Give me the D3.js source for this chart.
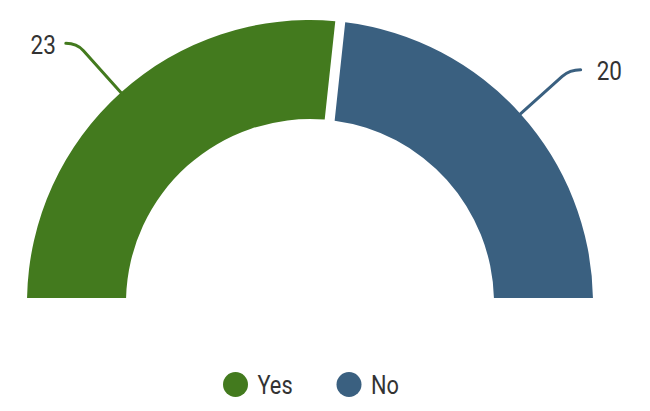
<!DOCTYPE html>
<html>
<head>
<meta charset="utf-8">
<script src="https://cdn.jsdelivr.net/npm/d3@7"></script>
<style>
  html, body { margin: 0; padding: 0; background: #fff; }
  svg { display: block; }
  text { font-family: Roboto, "Noto Sans", sans-serif; fill: #333; }
</style>
</head>
<body>
<svg id="chart" width="650" height="411"></svg>
<script>
const categories = ["Yes", "No"];
const values = [23, 20];
const colors = ["#437a1e", "#3a6080"];

const W = 650, H = 411;
const cx = 310, cy = 303;
const outerR = 283, innerR = 184;
const gap = 10;

const svg = d3.select("#chart");
const data = categories.map((c, i) => ({ name: c, value: values[i], color: colors[i] }));

const pie = d3.pie()
  .sort(null)
  .value(d => d.value)
  .startAngle(-Math.PI / 2)
  .endAngle(Math.PI / 2)
  .padAngle(gap / outerR);

const arc = d3.arc()
  .innerRadius(innerR)
  .outerRadius(outerR)
  .padRadius(outerR);

const arcs = pie(data);
const g = svg.append("g").attr("transform", `translate(${cx},${cy})`);

g.selectAll("path.slice")
  .data(arcs)
  .join("path")
  .attr("class", "slice")
  .attr("d", arc)
  .attr("fill", d => d.data.color);

// connectors + labels
function polar(r, a) { return [r * Math.sin(a), -r * Math.cos(a)]; }

arcs.forEach(d => {
  const mid = (d.startAngle + d.endAngle) / 2;
  const side = Math.sin(mid) < 0 ? -1 : 1;
  const p0 = polar(outerR - 2, mid);
  const p1 = polar(outerR + 56, mid);
  const c = polar(outerR + 66, mid);
  const end = [c[0] + side * 11, c[1]];
  const path = d3.path();
  path.moveTo(p0[0], p0[1]);
  path.lineTo(p1[0], p1[1]);
  path.quadraticCurveTo(c[0], c[1], end[0], end[1]);
  g.append("path")
    .attr("d", path.toString())
    .attr("fill", "none")
    .attr("stroke", d.data.color)
    .attr("stroke-width", 3)
    .attr("stroke-linecap", "round");
  const lx = end[0] + side * (side < 0 ? 10 : 16);
  g.append("text")
    .attr("transform", `translate(${lx},${end[1] + 1.5}) scale(0.9,1)`)
    .attr("dy", "0.36em")
    .attr("text-anchor", side < 0 ? "end" : "start")
    .style("font-size", "25px")
    .text(d.data.value);
});

// legend
const legendY = 384.5;
const legendX = [235.5, 349];
const leg = svg.append("g");
data.forEach((d, i) => {
  leg.append("circle")
    .attr("cx", legendX[i])
    .attr("cy", legendY)
    .attr("r", 12.5)
    .attr("fill", d.color);
  leg.append("text")
    .attr("transform", `translate(${legendX[i] + 22},${legendY + 0.5}) scale(0.87,1)`)
    .attr("dy", "0.36em")
    .style("font-size", "25px")
    .text(d.name);
});
</script>
</body>
</html>
